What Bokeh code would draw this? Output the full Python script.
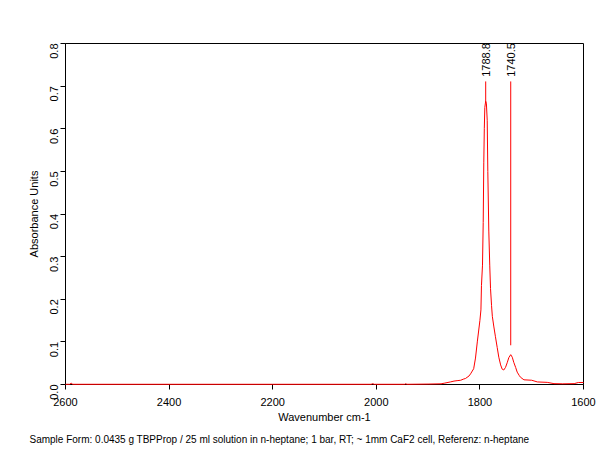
import math
from bokeh.plotting import figure
from bokeh.models import Range1d, FixedTicker, PrintfTickFormatter, Title, ColumnDataSource
from bokeh.core.properties import value
from bokeh.embed import file_html
from bokeh.resources import INLINE

# ---- data ----
wavenumber = [2600, 2592, 2589, 2586, 2400, 2200, 2010, 2007, 2004, 1945, 1943, 1941,
              1900, 1875, 1869, 1857, 1850, 1844, 1837, 1831, 1828, 1821, 1818, 1812,
              1808.5, 1805, 1800, 1798, 1797, 1795, 1793.6, 1792.5, 1791.5, 1790.5,
              1788.8, 1787.5, 1785.9, 1784.7, 1782.8, 1781, 1779.5, 1777.5, 1776, 1773,
              1770, 1766.6, 1763.5, 1760, 1757, 1754, 1750.6, 1747.3, 1744.2, 1740.5,
              1737.5, 1734.6, 1731, 1728, 1724, 1721.6, 1715, 1700, 1689, 1670, 1657,
              1640, 1618, 1610, 1600]
absorbance = [0.0005, 0.0005, 0.003, 0.0005, 0.0005, 0.0005, 0.0005, 0.002, 0.0005, 0.0005, 0.002, 0.0005,
              0.001, 0.0016, 0.003, 0.006, 0.008, 0.009, 0.010, 0.013, 0.014, 0.020, 0.025, 0.037,
              0.062, 0.100, 0.150, 0.175, 0.232, 0.280, 0.380, 0.520, 0.600, 0.650,
              0.665, 0.660, 0.620, 0.500, 0.360, 0.280, 0.225, 0.185, 0.160, 0.135,
              0.112, 0.087, 0.064, 0.046, 0.036, 0.034, 0.040, 0.051, 0.063, 0.070,
              0.064, 0.052, 0.040, 0.029, 0.021, 0.017, 0.011, 0.010, 0.006, 0.005, 0.002,
              0.0016, 0.002, 0.0047, 0.0047]

peak_positions = [1788.8, 1740.5]
peak_labels = ["1788.8", "1740.5"]
peak_marker_bottom = [0.665, 0.092]
peak_marker_top = [0.711, 0.711]
peak_label_y = [0.722, 0.722]

x_ticks = [2600, 2400, 2200, 2000, 1800, 1600]
y_ticks = [0.0, 0.1, 0.2, 0.3, 0.4, 0.5, 0.6, 0.7, 0.8]

x_label = "Wavenumber cm-1"
y_label = "Absorbance Units"
footer = "Sample Form: 0.0435 g TBPProp / 25 ml solution in n-heptane; 1 bar, RT; ~ 1mm CaF2 cell, Referenz: n-heptane"

FONT = "Liberation Sans"

p = figure(width=596, height=456, output_backend="svg", toolbar_location=None,
           x_range=Range1d(2600, 1600), y_range=Range1d(0, 0.8),
           min_border_left=65, min_border_right=13, min_border_top=43, min_border_bottom=72)
p.background_fill_color = "white"
p.border_fill_color = "white"
p.outline_line_color = "black"
p.outline_line_alpha = 1.0
p.outline_line_width = 1
p.grid.visible = False

for ax in (p.xaxis[0], p.yaxis[0]):
    ax.axis_line_color = "black"
    ax.major_tick_line_color = "black"
    ax.major_tick_out = 5
    ax.major_tick_in = 0
    ax.minor_tick_line_color = None
    ax.major_label_text_font = FONT
    ax.major_label_text_font_size = "11px"
    ax.major_label_text_color = "black"
    ax.axis_label_text_font = FONT
    ax.axis_label_text_font_size = "11px"
    ax.axis_label_text_font_style = "normal"
    ax.axis_label_text_color = "black"

p.xaxis[0].ticker = FixedTicker(ticks=x_ticks)
p.yaxis[0].ticker = FixedTicker(ticks=y_ticks)
p.xaxis[0].formatter = PrintfTickFormatter(format="%d")
p.yaxis[0].formatter = PrintfTickFormatter(format="%.1f")
p.yaxis[0].major_label_orientation = math.pi / 2
p.xaxis[0].axis_label = x_label
p.yaxis[0].axis_label = y_label
p.xaxis[0].major_label_standoff = 8
p.xaxis[0].axis_label_standoff = 2
p.yaxis[0].major_label_standoff = 7
p.yaxis[0].axis_label_standoff = 3

spec = ColumnDataSource(dict(x=wavenumber, y=absorbance))
r = p.line("x", "y", source=spec, line_color="#ff0000", line_width=1)
r.level = "overlay"

pk = ColumnDataSource(dict(x=peak_positions, y0=peak_marker_bottom, y1=peak_marker_top,
                           ty=peak_label_y, t=peak_labels))
p.segment(x0="x", y0="y0", x1="x", y1="y1", source=pk, line_color="#ff0000", line_width=1)
p.text(x="x", y="ty", text="t", source=pk, angle=math.pi / 2, text_align="left",
       text_baseline="middle", text_font=value(FONT), text_font_size="11px", text_color="black")

foot = Title(text=footer, align="left", offset=-36, standoff=13,
             text_font=FONT, text_font_size="10px", text_font_style="normal", text_color="black")
p.add_layout(foot, "below")

open("out.html", "w").write(file_html(p, INLINE))
